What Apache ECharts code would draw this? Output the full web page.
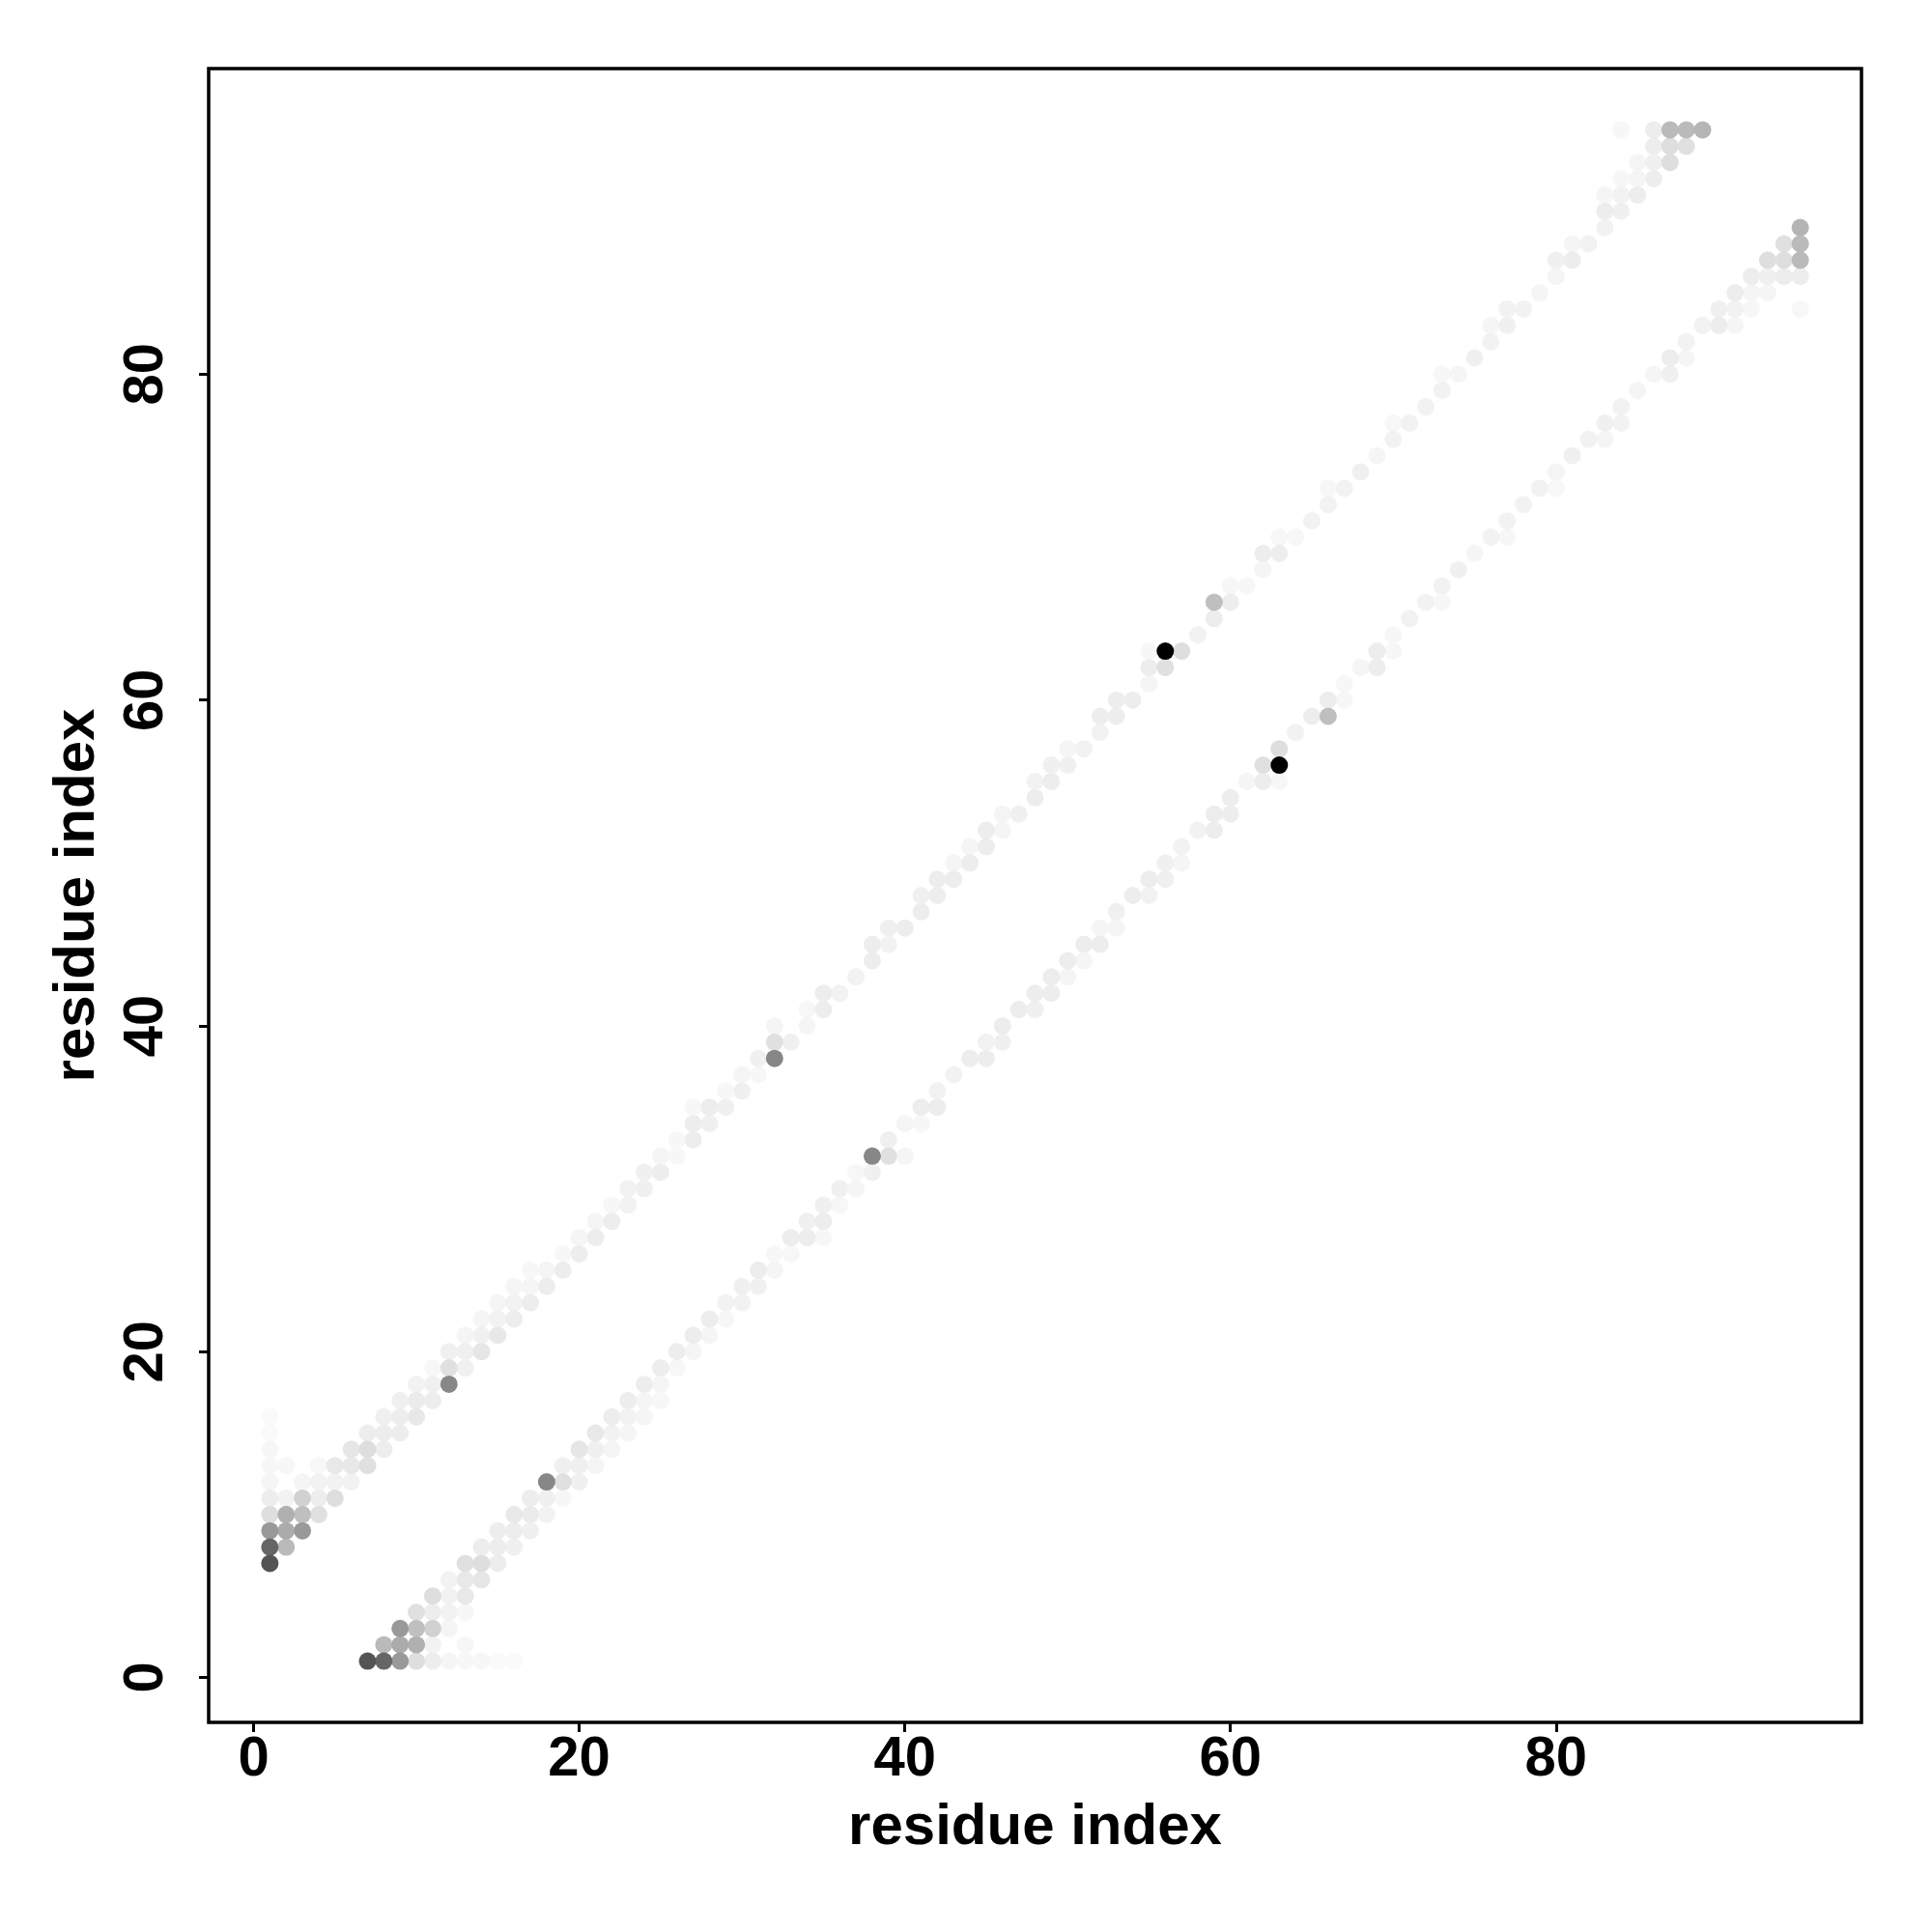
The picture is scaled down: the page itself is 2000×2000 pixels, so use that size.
<!DOCTYPE html>
<html><head><meta charset="utf-8">
<script src="https://cdn.jsdelivr.net/npm/echarts@6/dist/echarts.min.js"></script>
<style>html,body{margin:0;padding:0;background:#fff}#c{width:2000px;height:2000px}</style>
</head><body><div id="c"></div>
<script>
// Upper-triangle contacts (residue i < residue j); the map is symmetric.
const resI = [1,1,1,1,1,1,1,1,1,1, 2,2,2,2,2, 3,3,3,3, 4,4,4,4, 5,5,5, 6,6,6, 7,7,7, 8,8,8, 9,9,9, 10,10,10, 11,11,11, 12,12,12, 13,13,13, 14,14,14, 15,15,15, 16,16,16, 17,17,17, 18,18, 19,19, 20,20, 21,21, 22,22, 23,23, 24,24, 25,25, 26,26, 27,27,27, 28,28, 29,29, 30,30, 31,31, 32,32,32, 33, 34,34, 35,35, 36, 37, 38,38, 39,39, 40, 41,41, 42,42, 43,43, 44,44, 45,45, 46,46, 47, 48,48, 49,49, 50,50, 51, 52,52, 53,53, 54, 55,55,55, 56,56, 57, 58, 59,59, 60,60, 61, 62,62, 63,63, 64, 65, 66,66, 67, 68, 69, 70,70, 71, 72, 73,73, 74, 75, 76,76, 77,77, 78, 79, 80,80, 81,81, 82, 83,83,83, 84,84,84,84, 85,85,85, 86,86,86,86, 87,87,87, 88,88, 89];
const resJ = [7,8,9,10,11,12,13,14,15,16, 8,9,10,11,13, 9,10,11,12, 10,11,12,13, 11,12,13, 12,13,14, 13,14,15, 14,15,16, 15,16,17, 16,17,18, 17,18,19, 18,19,20, 19,20,21, 20,21,22, 21,22,23, 22,23,24, 23,24,25, 24,25, 25,26, 26,27, 27,28, 28,29, 29,30, 30,31, 31,32, 32,33, 33,34,35, 34,35, 35,36, 36,37, 37,38, 38,39,40, 39, 40,41, 41,42, 42, 43, 44,45, 45,46, 46, 47,48, 48,49, 49,50, 50,51, 51,52, 52,53, 53, 54,55, 55,56, 56,57, 57, 58,59, 59,60, 60, 61,62,63, 62,63, 63, 64, 65,66, 66,67, 67, 68,69, 69,70, 70, 71, 72,73, 73, 74, 75, 76,77, 77, 78, 79,80, 80, 81, 82,83, 83,84, 84, 85, 86,87, 87,88, 88, 89,90,91, 90,91,92,95, 91,92,93, 92,93,94,95, 93,94,95, 94,95, 95];
const prob = [.67,.60,.40,.13,.07,.04,.03,.03,.02,.02, .27,.33,.31,.05,.03, .40,.25,.18,.04, .12,.07,.05,.03, .13,.05,.09, .05,.09,.10, .12,.13,.07, .07,.07,.06, .07,.07,.06, .09,.08,.05, .07,.06,.03, .47,.12,.06, .06,.06,.04, .10,.06,.04, .09,.05,.04, .07,.05,.04, .07,.04,.03, .07,.04, .07,.03, .07,.04, .07,.04, .07,.03, .05,.05, .06,.06, .07,.04, .03,.03, .07,.07,.03, .06,.07, .06,.03, .06,.04, .03,.06, .47,.12,.04, .06, .04,.03, .07,.07, .05, .05, .07,.07, .05,.06, .07, .07,.06, .07,.07, .07,.04, .07,.04, .07,.07, .04,.04, .06, .07,.05, .07,.06, .06,.04, .05, .05,.07, .07,.07, .07, .04,.07,.03, .12,1.0, .13, .05, .07,.25, .07,.03, .03, .04,.07, .07,.03, .03, .05, .05,.03, .05, .06, .04, .05,.03, .05, .05, .05,.03, .04, .06, .05,.04, .06,.05, .05, .04, .04,.06, .07,.04, .05, .05,.07,.04, .06,.05,.03,.03, .07,.04,.04, .07,.06,.07,.07, .13,.13,.27, .12,.27, .29];
const tickValues = [0, 20, 40, 60, 80];
const axisMin = -2.76, axisMax = 98.76;

const points = [];
for (let k = 0; k < resI.length; k++) {
  points.push([resI[k], resJ[k], prob[k]]);
  points.push([resJ[k], resI[k], prob[k]]);
}
points.sort((a, b) => a[2] - b[2]);

const font = 'Liberation Sans, Arial, Helvetica, sans-serif';
const tick = {show: true, customValues: tickValues, length: 10, inside: false, lineStyle: {color: '#000', width: 3}};
const label = {customValues: tickValues, fontSize: 58, fontWeight: 'bold', fontFamily: font, color: '#000'};
const nameStyle = {fontSize: 60, fontWeight: 'bold', fontFamily: font, color: '#000'};

const chart = echarts.init(document.getElementById('c'), null, {renderer: 'canvas'});
chart.setOption({
  animation: false,
  backgroundColor: '#fff',
  grid: {left: 216, right: 73, top: 71, bottom: 217, show: true, borderColor: '#000', borderWidth: 3.5, backgroundColor: 'transparent', containLabel: false, outerBoundsMode: 'none'},
  xAxis: {type: 'value', min: axisMin, max: axisMax, axisLine: {show: false, onZero: false}, splitLine: {show: false},
    axisTick: tick, axisLabel: Object.assign({margin: 10}, label),
    name: 'residue index', nameLocation: 'middle', nameGap: 79, nameTextStyle: nameStyle},
  yAxis: {type: 'value', min: axisMin, max: axisMax, axisLine: {show: false, onZero: false}, splitLine: {show: false},
    axisTick: tick, axisLabel: Object.assign({margin: 35, rotate: 90}, label),
    name: 'residue index', nameLocation: 'middle', nameGap: 106, nameRotate: 90, nameTextStyle: nameStyle},
  visualMap: {type: 'continuous', show: false, min: 0, max: 1, dimension: 2, inRange: {color: ['#ffffff', '#000000']}},
  series: [{type: 'scatter', data: points, symbol: 'circle', symbolSize: 18, itemStyle: {opacity: 1}, emphasis: {disabled: true}}]
});
</script></body></html>
